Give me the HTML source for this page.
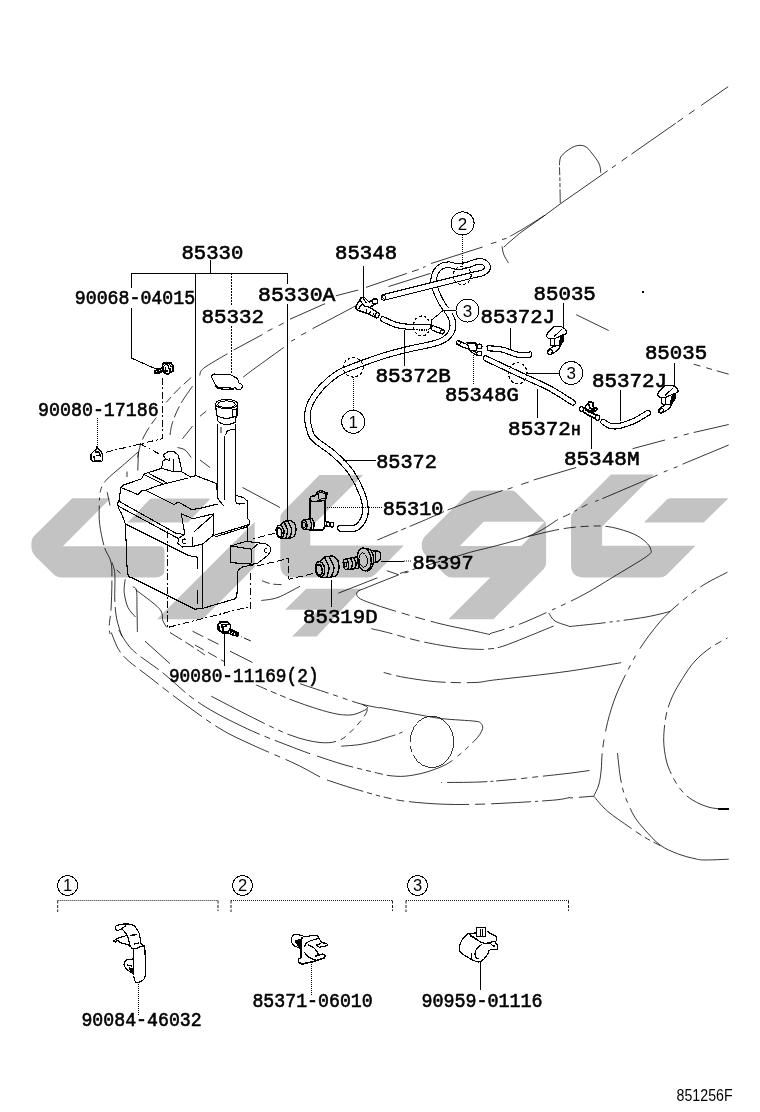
<!DOCTYPE html>
<html><head><meta charset="utf-8"><title>851256F</title>
<style>
html,body{margin:0;padding:0;background:#fff;}
body{width:760px;height:1112px;overflow:hidden;position:relative;font-family:"Liberation Sans",sans-serif;}
svg{position:absolute;left:0;top:0;display:block;}
</style></head><body>
<svg id="art" width="760" height="1112" viewBox="0 0 760 1112">
<g id="wm">
<path d="M73.6,498.3 L110.6,498.3 L62.8,546.3 L160,546.3 Q164.5,546.3 164.5,551 L164.5,569 Q164.5,577.4 156,577.4 L62,577.4 Q57,577.4 53.5,574.2 L35.5,556.5 Q31.4,552 31.4,547 L31.4,543 Q31.4,538.5 35,535 L71,499.4 Q72,498.3 73.6,498.3 Z" fill="#c3c3c3" fill-rule="evenodd"/>
<path d="M152.5,498.4 L210.5,498.4 L188,522.5 L127.6,522.5 L149.5,499.5 Q150.5,498.4 152.5,498.4Z" fill="#c3c3c3" fill-rule="evenodd"/>
<path d="M254.7,521.8 L254.7,567.1 L202.6,619.2 L157,619.2 Z" fill="#c3c3c3" fill-rule="evenodd"/>
<path d="M319.5,475 L363,475 L310.3,527.7 L310.3,545.6 L403.8,545.6 L375,574.5 Q372,577.4 367,577.4 L293,577.4 Q280.3,577.4 280.3,565 L280.3,518 Q280.3,514.5 283,511.8 Z" fill="#c3c3c3" fill-rule="evenodd"/>
<path d="M306.3,588.7 L361.6,588.7 L316.6,636.5 L292.1,636.5 L318.9,609.7 L285,609.7 Z" fill="#c3c3c3" fill-rule="evenodd"/>
<path d="M474,490.5 L512,490.5 Q514,490.5 515.5,492 L544.8,521.3 Q546.1,522.6 546.1,524.2 L546.1,563 Q546.1,566.6 543.5,569.2 L493.4,619.3 L448.4,619.3 L490.3,577.4 L451.5,577.4 Q447.6,577.4 444.8,574.6 L426.3,556.1 Q421.8,551.6 421.8,546.5 L421.8,545 Q421.8,539.5 425.5,535.8 L468.5,492.8 Q470.8,490.5 474,490.5 Z M483.6,521.8 L544.6,521.8 L521.4,546.1 L459.8,546.1 Z" fill="#c3c3c3" fill-rule="evenodd"/>
<path d="M611,474.5 L654,474.5 L602.1,526.4 L602.1,545.8 L695.5,545.8 L667,574.5 Q664,577.4 659,577.4 L584,577.4 Q571,577.4 571,565 L571,518 Q571,514.5 573.5,512 Z" fill="#c3c3c3" fill-rule="evenodd"/>
<path d="M671,498.3 L728.4,498.3 L703.6,522.6 L643.8,522.6 L667,499.6 Q668.5,498.3 671,498.3Z" fill="#c3c3c3" fill-rule="evenodd"/>
</g>
<g id="lines" opacity="0.999" shape-rendering="crispEdges">
<text transform="translate(181.4 259) scale(0.983 1)" font-family="Liberation Mono" font-weight="normal" font-size="21" stroke="#000" stroke-width="0.65" stroke-linejoin="round">85330</text>
<text transform="translate(74.8 304) scale(0.868 1)" font-family="Liberation Mono" font-weight="normal" font-size="21" stroke="#000" stroke-width="0.65" stroke-linejoin="round">90068-04015</text>
<text transform="translate(258.1 301.3) scale(1.023 1)" font-family="Liberation Mono" font-weight="normal" font-size="21" stroke="#000" stroke-width="0.65" stroke-linejoin="round">85330A</text>
<text transform="translate(201.4 323) scale(0.992 1)" font-family="Liberation Mono" font-weight="normal" font-size="21" stroke="#000" stroke-width="0.65" stroke-linejoin="round">85332</text>
<text transform="translate(38.1 416) scale(0.870 1)" font-family="Liberation Mono" font-weight="normal" font-size="21" stroke="#000" stroke-width="0.65" stroke-linejoin="round">90080-17186</text>
<text transform="translate(335.1 259) scale(0.983 1)" font-family="Liberation Mono" font-weight="normal" font-size="21" stroke="#000" stroke-width="0.65" stroke-linejoin="round">85348</text>
<text transform="translate(375.4 382) scale(0.999 1)" font-family="Liberation Mono" font-weight="normal" font-size="21" stroke="#000" stroke-width="0.65" stroke-linejoin="round">85372B</text>
<text transform="translate(376.2 467.5) scale(0.962 1)" font-family="Liberation Mono" font-weight="normal" font-size="21" stroke="#000" stroke-width="0.65" stroke-linejoin="round">85372</text>
<text transform="translate(382.8 514.5) scale(0.962 1)" font-family="Liberation Mono" font-weight="normal" font-size="21" stroke="#000" stroke-width="0.65" stroke-linejoin="round">85310</text>
<text transform="translate(412.6 568.5) scale(0.970 1)" font-family="Liberation Mono" font-weight="normal" font-size="21" stroke="#000" stroke-width="0.65" stroke-linejoin="round">85397</text>
<text transform="translate(303.1 622.5) scale(0.986 1)" font-family="Liberation Mono" font-weight="normal" font-size="21" stroke="#000" stroke-width="0.65" stroke-linejoin="round">85319D</text>
<text transform="translate(168.9 682) scale(0.849 1)" font-family="Liberation Mono" font-weight="normal" font-size="21" stroke="#000" stroke-width="0.65" stroke-linejoin="round">90080-11169(2)</text>
<text transform="translate(533.6 300) scale(0.988 1)" font-family="Liberation Mono" font-weight="normal" font-size="21" stroke="#000" stroke-width="0.65" stroke-linejoin="round">85035</text>
<text transform="translate(480.6 323) scale(0.985 1)" font-family="Liberation Mono" font-weight="normal" font-size="21" stroke="#000" stroke-width="0.65" stroke-linejoin="round">85372J</text>
<text transform="translate(444.9 401) scale(0.978 1)" font-family="Liberation Mono" font-weight="normal" font-size="21" stroke="#000" stroke-width="0.65" stroke-linejoin="round">85348G</text>
<text transform="translate(508.1 435) scale(0.996 1)" font-family="Liberation Mono" font-weight="normal" font-size="21" stroke="#000" stroke-width="0.65" stroke-linejoin="round">85372<tspan font-size="15.5" dx="0.5">H</tspan></text>
<text transform="translate(644.9 359.2) scale(0.988 1)" font-family="Liberation Mono" font-weight="normal" font-size="21" stroke="#000" stroke-width="0.65" stroke-linejoin="round">85035</text>
<text transform="translate(591.9 386.7) scale(0.996 1)" font-family="Liberation Mono" font-weight="normal" font-size="21" stroke="#000" stroke-width="0.65" stroke-linejoin="round">85372J</text>
<text transform="translate(563.9 464.5) scale(1.001 1)" font-family="Liberation Mono" font-weight="normal" font-size="21" stroke="#000" stroke-width="0.65" stroke-linejoin="round">85348M</text>
<text transform="translate(81.4 1026) scale(0.868 1)" font-family="Liberation Mono" font-weight="normal" font-size="21" stroke="#000" stroke-width="0.65" stroke-linejoin="round">90084-46032</text>
<text transform="translate(252.4 1007) scale(0.868 1)" font-family="Liberation Mono" font-weight="normal" font-size="21" stroke="#000" stroke-width="0.65" stroke-linejoin="round">85371-06010</text>
<text transform="translate(421.4 1007) scale(0.875 1)" font-family="Liberation Mono" font-weight="normal" font-size="21" stroke="#000" stroke-width="0.65" stroke-linejoin="round">90959-01116</text>
<text transform="translate(676.6 1100.6) scale(0.865 1)" font-family="Liberation Sans" font-size="16.4">851256F</text>
<path d="M210.5 260 L210.5 273" fill="none" stroke="#000" stroke-width="1" stroke-linejoin="round"/>
<path d="M131.2 273 L287 273" fill="none" stroke="#000" stroke-width="1" stroke-linejoin="round"/>
<path d="M131.2 273 L131.2 287.5" fill="none" stroke="#000" stroke-width="1" stroke-linejoin="round"/>
<path d="M131.2 308 L131.2 358 L152.5 367.5 L158 369" fill="none" stroke="#000" stroke-width="1" stroke-linejoin="round"/>
<path d="M195.5 273 L195.5 476" fill="none" stroke="#000" stroke-width="1" stroke-linejoin="round"/>
<path d="M231.2 273 L231.2 306" fill="none" stroke="#000" stroke-width="1" stroke-dasharray="2 1" stroke-linejoin="round"/>
<path d="M231.2 326 L231.2 374" fill="none" stroke="#000" stroke-width="1" stroke-dasharray="2 1" stroke-linejoin="round"/>
<path d="M287 273 L287 284" fill="none" stroke="#000" stroke-width="1" stroke-linejoin="round"/>
<path d="M287 304 L287 520" fill="none" stroke="#000" stroke-width="1" stroke-linejoin="round"/>
<path d="M363.2 266 L363.2 297" fill="none" stroke="#000" stroke-width="1" stroke-linejoin="round"/>
<path d="M342.5 460.2 L376 460.2" fill="none" stroke="#000" stroke-width="1" stroke-linejoin="round"/>
<path d="M325.3 507.8 L383 507.8" fill="none" stroke="#000" stroke-width="1" stroke-dasharray="1 1" stroke-linejoin="round"/>
<path d="M325.3 507.8 L325.3 521.6" fill="none" stroke="#000" stroke-width="1" stroke-dasharray="1 1" stroke-linejoin="round"/>
<path d="M380.5 561 L404 561" fill="none" stroke="#000" stroke-width="1" stroke-linejoin="round"/>
<path d="M404 561 L411 561" fill="none" stroke="#000" stroke-width="0.9" stroke-dasharray="1 1" stroke-linejoin="round"/>
<path d="M331.6 579.7 L331.6 607" fill="none" stroke="#000" stroke-width="1" stroke-linejoin="round"/>
<path d="M224.5 633.7 L224.5 666.2" fill="none" stroke="#000" stroke-width="1" stroke-linejoin="round"/>
<path d="M97 417.7 L97 449" fill="none" stroke="#000" stroke-width="1" stroke-dasharray="1 1" stroke-linejoin="round"/>
<path d="M563.2 303 L563.2 326.7" fill="none" stroke="#000" stroke-width="1" stroke-linejoin="round"/>
<path d="M510.5 328 L510.5 349.2" fill="none" stroke="#000" stroke-width="1" stroke-linejoin="round"/>
<path d="M473 353 L473 384.2" fill="none" stroke="#000" stroke-width="1" stroke-dasharray="1 1" stroke-linejoin="round"/>
<path d="M537.5 388.7 L537.5 417.5" fill="none" stroke="#000" stroke-width="1" stroke-linejoin="round"/>
<path d="M527.5 373 L560 373" fill="none" stroke="#000" stroke-width="1" stroke-linejoin="round"/>
<path d="M674.2 362.5 L674.2 385.5" fill="none" stroke="#000" stroke-width="1" stroke-linejoin="round"/>
<path d="M620.7 389.7 L620.7 421.2" fill="none" stroke="#000" stroke-width="1" stroke-linejoin="round"/>
<path d="M591.7 417.5 L591.7 448.7" fill="none" stroke="#000" stroke-width="1.3" stroke-linejoin="round"/>
<circle cx="462.6" cy="223.4" r="11.5" fill="none" stroke="#000" stroke-width="1"/>
<text x="462.6" y="229.5" font-family="Liberation Sans" font-size="17" text-anchor="middle">2</text>
<path d="M462.6 234.5 L462.6 268" fill="none" stroke="#000" stroke-width="1" stroke-dasharray="1 1" stroke-linejoin="round"/>
<circle cx="467.5" cy="310.5" r="11.5" fill="none" stroke="#000" stroke-width="1"/>
<text x="467.5" y="316.6" font-family="Liberation Sans" font-size="17" text-anchor="middle">3</text>
<circle cx="571.2" cy="373" r="11.5" fill="none" stroke="#000" stroke-width="1"/>
<text x="571.2" y="379.1" font-family="Liberation Sans" font-size="17" text-anchor="middle">3</text>
<circle cx="353.2" cy="421.8" r="11.5" fill="none" stroke="#000" stroke-width="1"/>
<text x="353.2" y="427.9" font-family="Liberation Sans" font-size="17" text-anchor="middle">1</text>
<path d="M353 376.5 L353 410" fill="none" stroke="#000" stroke-width="1" stroke-dasharray="1 1" stroke-linejoin="round"/>
<circle cx="67.6" cy="885.5" r="10" fill="none" stroke="#000" stroke-width="1"/>
<text x="67.6" y="891.4" font-family="Liberation Sans" font-size="16.5" text-anchor="middle">1</text>
<circle cx="242.5" cy="885.5" r="10" fill="none" stroke="#000" stroke-width="1"/>
<text x="242.5" y="891.4" font-family="Liberation Sans" font-size="16.5" text-anchor="middle">2</text>
<circle cx="417.5" cy="885.5" r="10" fill="none" stroke="#000" stroke-width="1"/>
<text x="417.5" y="891.4" font-family="Liberation Sans" font-size="16.5" text-anchor="middle">3</text>
<path d="M57.7 900.5 L218 900.5" fill="none" stroke="#000" stroke-width="0.9" stroke-dasharray="1 1" stroke-linejoin="round"/>
<path d="M57.7 900.5 L57.7 912" fill="none" stroke="#000" stroke-width="0.9" stroke-dasharray="3 1.5" stroke-linejoin="round"/>
<path d="M218 900.5 L218 911" fill="none" stroke="#000" stroke-width="0.9" stroke-dasharray="3 1.5" stroke-linejoin="round"/>
<path d="M231 900.5 L392.5 900.5" fill="none" stroke="#000" stroke-width="0.9" stroke-dasharray="1 1" stroke-linejoin="round"/>
<path d="M231 900.5 L231 912" fill="none" stroke="#000" stroke-width="0.9" stroke-dasharray="3 1.5" stroke-linejoin="round"/>
<path d="M392.5 900.5 L392.5 911" fill="none" stroke="#000" stroke-width="0.9" stroke-dasharray="3 1.5" stroke-linejoin="round"/>
<path d="M406 900.5 L568.5 900.5" fill="none" stroke="#000" stroke-width="0.9" stroke-dasharray="1 1" stroke-linejoin="round"/>
<path d="M406 900.5 L406 912" fill="none" stroke="#000" stroke-width="0.9" stroke-dasharray="3 1.5" stroke-linejoin="round"/>
<path d="M568.5 900.5 L568.5 911" fill="none" stroke="#000" stroke-width="0.9" stroke-dasharray="3 1.5" stroke-linejoin="round"/>
<path d="M138.7 982 L138.7 1016" fill="none" stroke="#000" stroke-width="1" stroke-dasharray="1 1" stroke-linejoin="round"/>
<path d="M311.7 962 L311.7 996" fill="none" stroke="#000" stroke-width="1.4" stroke-dasharray="1 1" stroke-linejoin="round"/>
<path d="M480.3 962 L480.3 989.5" fill="none" stroke="#000" stroke-width="1.1" stroke-linejoin="round"/>
<path d="M144.7 945.8 C144.8 948.2 145.2 955.1 145.3 960 C145.4 964.9 145.6 972 145.3 975.3 C145 978.5 144.8 978.3 143.7 979.5 C142.5 980.7 139.8 982.2 138.4 982.6 C137 983 136.1 982.7 135.3 981.6 C134.5 980.5 133.9 976.9 133.6 976" fill="none" stroke="#000" stroke-width="1.2" stroke-linejoin="round"/>
<path d="M133.2 975 L133.2 949" fill="none" stroke="#000" stroke-width="1.2" stroke-linejoin="round"/>
<path d="M115.3 926.3 C116.3 925.9 118.8 924.5 121.6 924.2 C124.4 923.9 129.6 924 132.1 924.7 C134.6 925.4 135.1 926.8 136.3 928.4 C137.5 930 138.7 931.7 139.5 934.2 C140.3 936.8 140.1 941.8 141 943.7 C141.9 945.6 144.1 945.4 144.7 945.8" fill="none" stroke="#000" stroke-width="1.2" stroke-linejoin="round"/>
<path d="M115.3 926.3 C115.4 926.8 115.4 928.8 115.8 929.5 C116.2 930.2 116.9 930.6 117.9 930.5 C118.9 930.4 120.4 928.6 121.6 929 C122.8 929.4 124.2 931.2 125.3 932.6 C126.3 934 127.2 935.5 127.9 937.4 C128.6 939.2 128.9 942 129.5 943.7 C130.1 945.5 131 947 131.6 947.9 C132.2 948.8 132.9 948.8 133.2 949" fill="none" stroke="#000" stroke-width="1.2" stroke-linejoin="round"/>
<path d="M121.6 929 L125.8 925.5" fill="none" stroke="#000" stroke-width="1.2" stroke-linejoin="round"/>
<path d="M113.7 941 C114.3 940.6 115.4 939.3 117.4 938.4 C119.4 937.5 124.4 936.2 125.8 935.8" fill="none" stroke="#000" stroke-width="1.2" stroke-linejoin="round"/>
<path d="M113.7 941 C114 941.2 115.2 942.2 115.8 942.1 C116.4 942 116.4 940.3 117.4 940.5 C118.4 940.7 119.8 942.5 121.6 943.2 C123.3 943.9 126.4 944 127.9 944.7 C129.4 945.4 130.1 947 130.5 947.4" fill="none" stroke="#000" stroke-width="1.2" stroke-linejoin="round"/>
<path d="M133.2 959 C132.1 959.2 128.3 959.4 126.8 960 C125.3 960.6 124.5 961.5 124.2 962.6 C123.9 963.7 123.9 965.4 124.7 966.8 C125.5 968.2 127.6 969.9 129 971 C130.4 972.1 132.5 973.2 133.2 973.7" fill="none" stroke="#000" stroke-width="1.2" stroke-linejoin="round"/>
<path d="M126.8 964.7 L132.1 966.3" fill="none" stroke="#000" stroke-width="1.2" stroke-linejoin="round"/>
<path d="M129 968 L132.3 968.5 L132.3 973.2Z" fill="#000" stroke="#000" stroke-width="1.2" stroke-linejoin="round"/>
<path d="M130 935.3 L137.4 934.7" fill="none" stroke="#000" stroke-width="1.2" stroke-linejoin="round"/>
<path d="M134.2 944.2 L139.5 942.6" fill="none" stroke="#000" stroke-width="1.2" stroke-linejoin="round"/>
<path d="M138.4 947.4 L144.2 945.8" fill="none" stroke="#000" stroke-width="1.2" stroke-linejoin="round"/>
<path d="M133.2 949 L138 948" fill="none" stroke="#000" stroke-width="1.2" stroke-linejoin="round"/>
<path d="M302.6 935.7 C301.4 935.5 297.1 934 295.3 934.3 C293.5 934.6 292.2 936.2 291.6 937.5 C291 938.8 291.2 940.7 291.6 942.1 C292.1 943.5 292.9 944.8 294.3 945.8 C295.7 946.8 299 947.7 299.9 948.1" fill="none" stroke="#000" stroke-width="1.2" stroke-linejoin="round"/>
<path d="M295 941 L299.8 939.5 L299.8 948Z" fill="#000" stroke="#000" stroke-width="1.2" stroke-linejoin="round"/>
<path d="M302.6 937 L301.2 939.8 L300.8 958.2 L298.5 958.7 L298.5 961.9 L301.7 964.2 L311.8 961.9 L323.8 958.2 L325.2 955.5 L322.9 954.1 L318.3 955 L314.6 956.4" fill="none" stroke="#000" stroke-width="1.6" stroke-linejoin="round"/>
<path d="M302.6 937 L314.6 935.2 L317.8 935.2 L318.3 937.5 L322 942.6 L326.6 943.5 L328 944.9 L324.7 946.2 L319.2 947.2 L316 945.3" fill="none" stroke="#000" stroke-width="1.2" stroke-linejoin="round"/>
<path d="M304.5 946.7 C304.8 946.1 305.2 944 306.3 943 C307.4 942 308.9 941.5 310.9 940.7 C312.9 939.9 317.1 938.8 318.3 938.4" fill="none" stroke="#000" stroke-width="1.2" stroke-linejoin="round"/>
<path d="M308.2 944.9 C309.1 945.4 312.2 946.4 313.7 947.6 C315.2 948.8 316.6 951.1 317.4 952.2 C318.2 953.4 318.1 954.1 318.3 954.5" fill="none" stroke="#000" stroke-width="1.2" stroke-linejoin="round"/>
<path d="M304.5 952.2 C304.9 952.8 306 954.8 307.2 955.9 C308.4 957 310.4 958.1 311.8 958.7 C313.2 959.3 314.9 959.5 315.5 959.6" fill="none" stroke="#000" stroke-width="1.2" stroke-linejoin="round"/>
<path d="M316 945.3 L321 943.5" fill="none" stroke="#000" stroke-width="1.2" stroke-linejoin="round"/>
<path d="M468 933.4 C467.2 934.2 464.7 936.3 463.4 938 C462.1 939.7 460.9 941.8 460.2 943.6 C459.5 945.5 459.1 947.6 459.3 949.1 C459.5 950.6 459.8 951.5 461.1 952.8 C462.4 954.1 465.2 955.7 467.1 956.9 C469 958.1 470.6 959.2 472.6 960.1 C474.6 961 477.2 962.1 479.1 962 C481 961.9 482.3 960.4 483.7 959.2 C485.1 958 486.5 956.1 487.4 954.6 C488.3 953.1 488.3 951.4 489.2 950.5 C490.1 949.6 491.6 949.7 492.9 949.5 C494.2 949.3 496.2 950.2 497 949.5 C497.8 948.8 497.9 946.5 497.5 945.4 C497.1 944.2 495.2 943.1 494.7 942.6" fill="none" stroke="#000" stroke-width="1.2" stroke-linejoin="round"/>
<path d="M494.7 942.6 L496.1 940.8 L496.1 936.2 L487.4 931.6" fill="none" stroke="#000" stroke-width="1.2" stroke-linejoin="round"/>
<path d="M476.3 933 L468 933.4 L480.9 942.2 L485.5 943.6 L491 942.2 L495.2 941.2" fill="none" stroke="#000" stroke-width="1.2" stroke-linejoin="round"/>
<path d="M469.9 935.7 L481.8 942.6" fill="none" stroke="#000" stroke-width="1.2" stroke-linejoin="round"/>
<path d="M476.8 927.4 L485.5 927.4 L485.5 936.6 L476.8 936.6Z" fill="#fff" stroke="#000" stroke-width="1.2" stroke-linejoin="round"/>
<path d="M480.5 929 L480.5 936.6" fill="none" stroke="#000" stroke-width="1.6" stroke-linejoin="round"/>
<path d="M482.3 929 L482.3 936.6" fill="none" stroke="#000" stroke-width="1" stroke-linejoin="round"/>
<path d="M487 931.5 L495 936" fill="none" stroke="#000" stroke-width="1.2" stroke-linejoin="round"/>
<path d="M481.8 944.5 C481 945.1 478.4 946.7 477.2 948.2 C476 949.7 475 952.1 474.9 953.7 C474.8 955.3 475.5 957 476.3 957.8 C477.1 958.6 479 958.2 479.5 958.3" fill="none" stroke="#000" stroke-width="1.2" stroke-linejoin="round"/>
<path d="M485.5 943.6 C486.3 943.6 488.7 943.2 490.1 943.6 C491.5 944 493 946.1 493.8 946.3 C494.6 946.4 495 944.8 495.2 944.5" fill="none" stroke="#000" stroke-width="1.2" stroke-linejoin="round"/>
<path d="M471.7 953 L471.7 958.5" fill="none" stroke="#000" stroke-width="1.5" stroke-linejoin="round"/>
<path d="M728.2 86.6 L560.5 203.7 L545.3 215 L519.5 233.4 L506.6 244.5 L503.8 247.2" fill="none" stroke="#000" stroke-width="0.8" stroke-dasharray="33 8 7 7 7 2 54 5 7 7 5 5 400" stroke-linejoin="round"/>
<path d="M560.3 203.3 C560.2 199.4 560 187 559.9 180 C559.8 173 559.2 165.6 559.7 161.3 C560.2 157 560.7 156.6 563.2 154.1 C565.7 151.6 571.1 147.6 574.7 146.3 C578.3 145 581.9 145 584.9 146.3 C587.9 147.6 590.1 151 592.5 154 C594.9 157 597.9 161 599.3 164.2 C600.7 167.3 600.5 171.4 600.8 172.9" fill="none" stroke="#000" stroke-width="0.8" stroke-dasharray="14 2 4 2 4 2 8 2 200" stroke-linejoin="round"/>
<path d="M502 246.3 C502.3 247.7 502.7 251.8 503.8 254.6 C504.9 257.4 507.6 261.5 508.4 262.9" fill="none" stroke="#000" stroke-width="0.8" stroke-linejoin="round"/>
<path d="M545.3 215 C541.6 217.3 529 225.3 523.2 228.8 C517.4 232.3 512.5 235 510.3 236.2" fill="none" stroke="#000" stroke-width="0.8" stroke-linejoin="round"/>
<path d="M506.6 238.4 L502 239.5" fill="none" stroke="#000" stroke-width="0.8" stroke-linejoin="round"/>
<path d="M496.4 242.1 L490.9 243.6" fill="none" stroke="#000" stroke-width="0.8" stroke-linejoin="round"/>
<path d="M482.6 247 L431 263.5" fill="none" stroke="#000" stroke-width="0.8" stroke-linejoin="round"/>
<path d="M418.7 269.5 L412 271.6" fill="none" stroke="#000" stroke-width="0.8" stroke-linejoin="round"/>
<path d="M425.5 266.5 L423 267.5" fill="none" stroke="#000" stroke-width="0.8" stroke-linejoin="round"/>
<path d="M406.8 273.4 L366 287.4" fill="none" stroke="#000" stroke-width="0.8" stroke-linejoin="round"/>
<path d="M358.2 290 L335.8 295.8" fill="none" stroke="#000" stroke-width="0.8" stroke-linejoin="round"/>
<path d="M325 303.7 L290 319.2" fill="none" stroke="#000" stroke-width="0.8" stroke-linejoin="round"/>
<path d="M283.7 323 L278.7 325.7" fill="none" stroke="#000" stroke-width="0.8" stroke-linejoin="round"/>
<path d="M272.5 328.7 L267.5 331.2" fill="none" stroke="#000" stroke-width="0.8" stroke-linejoin="round"/>
<path d="M262.5 334.5 L233.7 350" fill="none" stroke="#000" stroke-width="0.8" stroke-linejoin="round"/>
<path d="M227.5 353.7 C223.5 356.1 208.3 364.6 203.7 368.2 C199.1 371.8 200.4 374.3 199.7 375.5" fill="none" stroke="#000" stroke-width="0.8" stroke-linejoin="round"/>
<path d="M357.6 304.2 C356.8 304.8 360 303.4 352.5 307.5 C345 311.6 319.2 325.2 312.5 328.7" fill="none" stroke="#000" stroke-width="0.8" stroke-linejoin="round"/>
<path d="M306.2 332.5 L301.2 335" fill="none" stroke="#000" stroke-width="0.8" stroke-linejoin="round"/>
<path d="M295 339.2 L291.2 341.2" fill="none" stroke="#000" stroke-width="0.8" stroke-linejoin="round"/>
<path d="M283.7 347.5 C278.9 350.9 261.8 363.3 255 368.2 C248.2 373.1 245.2 375.6 243.2 377.1" fill="none" stroke="#000" stroke-width="0.8" stroke-linejoin="round"/>
<path d="M576.2 314.7 L608.7 330.5" fill="none" stroke="#000" stroke-width="0.8" stroke-linejoin="round"/>
<path d="M693.7 364.2 L728.7 374.2" fill="none" stroke="#000" stroke-width="0.8" stroke-dasharray="7 6 6 5 20" stroke-linejoin="round"/>
<circle cx="643" cy="292" r="0.7" fill="#000"/>
<path d="M377.3 540 C381.1 538.4 392.4 533.7 400 530.5 C407.6 527.3 415.3 524.1 422.6 521 C429.9 517.9 440.4 513.2 444 511.6" fill="none" stroke="#000" stroke-width="0.8" stroke-dasharray="22 4 5 4 200" stroke-linejoin="round"/>
<path d="M447.5 510 C452.9 508 470.8 501.2 480 498 C489.2 494.8 498.8 491.8 502.5 490.5" fill="none" stroke="#000" stroke-width="0.8" stroke-linejoin="round"/>
<path d="M507.5 489.2 L512.5 487.5" fill="none" stroke="#000" stroke-width="0.8" stroke-linejoin="round"/>
<path d="M521.2 484.5 L528.7 482" fill="none" stroke="#000" stroke-width="0.8" stroke-linejoin="round"/>
<path d="M533.7 480 L576.2 467.5" fill="none" stroke="#000" stroke-width="0.8" stroke-linejoin="round"/>
<path d="M632.5 448.7 L665 440" fill="none" stroke="#000" stroke-width="0.8" stroke-linejoin="round"/>
<path d="M673.7 438 L677.5 437" fill="none" stroke="#000" stroke-width="0.8" stroke-linejoin="round"/>
<path d="M683.7 435 L688.7 433.7" fill="none" stroke="#000" stroke-width="0.8" stroke-linejoin="round"/>
<path d="M693.7 432.5 L728.7 424.5" fill="none" stroke="#000" stroke-width="0.8" stroke-linejoin="round"/>
<path d="M400 573.4 L469.7 552.4" fill="none" stroke="#000" stroke-width="0.8" stroke-dasharray="8 5 10 5 14 5 200" stroke-linejoin="round"/>
<path d="M469.7 552.4 C479.4 549.8 512.9 542.1 527.6 536.6 C542.3 531.1 552.9 522.4 557.9 519.5" fill="none" stroke="#000" stroke-width="0.8" stroke-linejoin="round"/>
<path d="M563 517 C564.2 516.5 565.9 515.8 570 513.7 C574.1 511.6 584.6 505.8 587.5 504.2" fill="none" stroke="#000" stroke-width="0.8" stroke-dasharray="8 5 3 5 200" stroke-linejoin="round"/>
<path d="M595 501.5 C596.7 500.8 594.6 501.9 605 497.5 C615.4 493.1 648.8 478.8 657.5 475" fill="none" stroke="#000" stroke-width="0.8" stroke-dasharray="4 4 200" stroke-linejoin="round"/>
<path d="M663.7 472 L667.5 470.5" fill="none" stroke="#000" stroke-width="0.8" stroke-linejoin="round"/>
<path d="M673.7 468 L677.5 466.7" fill="none" stroke="#000" stroke-width="0.8" stroke-linejoin="round"/>
<path d="M682.5 464.2 L728.7 445" fill="none" stroke="#000" stroke-width="0.8" stroke-linejoin="round"/>
<path d="M338.3 593.2 L377.4 577.8" fill="none" stroke="#000" stroke-width="0.8" stroke-linejoin="round"/>
<path d="M386.8 570.7 L398.7 574.8" fill="none" stroke="#000" stroke-width="0.8" stroke-linejoin="round"/>
<path d="M404.6 573 L408.8 571.8" fill="none" stroke="#000" stroke-width="0.8" stroke-linejoin="round"/>
<path d="M358.4 590.8 L398.7 574.8" fill="none" stroke="#000" stroke-width="0.8" stroke-linejoin="round"/>
<path d="M527.6 536.6 C533.5 535.3 551.9 530.5 563 528.7 C574.1 526.9 585.9 526.2 594.2 526 C602.5 525.8 606 526.1 612.6 527.4 C619.2 528.7 628.2 531.6 633.7 534 C639.2 536.4 642.6 539.2 645.5 541.8 C648.4 544.4 650.6 547.3 650.8 549.7 C651 552.1 653.2 551.7 646.8 556.3 C640.4 560.9 622.7 571.2 612.6 577.4 C602.5 583.5 595.1 588.4 586.3 593.2 C577.5 598 571 601.2 560 606.3 C549 611.4 531.7 619.5 520 624 C508.3 628.5 495 632 490 633.6" fill="none" stroke="#000" stroke-width="0.8" stroke-dasharray="32 5 12 5 8 5 7 5 150 6 5 6 4 6 30 5 5 5 200" stroke-linejoin="round"/>
<path d="M358.4 590.8 C358.1 591.4 356.2 592.9 356.6 594.3 C357 595.7 357.5 597.3 360.8 599.1 C364.1 600.9 369.7 602.8 376.2 605 C382.7 607.2 389.4 609.4 400 612.5 C410.6 615.6 427.5 620.6 440 623.7 C452.5 626.8 466.7 629.4 475 631.2 C483.3 633 487.5 634 490 634.5" fill="none" stroke="#000" stroke-width="0.8" stroke-dasharray="48 6 8 6 10 6 200" stroke-linejoin="round"/>
<path d="M371.2 628.7 C373.9 629.3 379.4 630.4 387.5 632.5 C395.6 634.6 408.8 638.7 420 641.2 C431.2 643.7 445.8 646.2 455 647.5 C464.2 648.8 469.6 649 475 649.2 C480.4 649.5 482.5 649.6 487.5 649 C492.5 648.4 494 649.3 505 645.5 C516 641.7 545.6 629.2 553.7 626" fill="none" stroke="#000" stroke-width="0.8" stroke-dasharray="22 5 8 5 10 5 60 4 6 4 200" stroke-linejoin="round"/>
<path d="M548.7 613 C549.8 614.3 551.5 618.8 555 621 C558.5 623.2 567.5 625.6 570 626.5" fill="none" stroke="#000" stroke-width="0.8" stroke-linejoin="round"/>
<path d="M570 626.5 C575.4 625.9 590 624.5 602.5 623 C615 621.5 633.8 619.1 645 617.2 C656.2 615.3 665.8 612.5 670 611.5" fill="none" stroke="#000" stroke-width="0.8" stroke-dasharray="36 4 3 4 3 4 200" stroke-linejoin="round"/>
<path d="M383.7 672.5 C387.2 673.3 395.6 675.9 405 677.5 C414.4 679.1 428.3 681.2 440 682 C451.7 682.8 466.2 682.8 475 682.5 C483.8 682.2 483.3 681.3 492.5 680.2 C501.7 679.1 517.1 677.5 530 676 C542.9 674.5 554.8 673.2 570 671 C585.2 668.8 612.7 664.1 621.2 662.7" fill="none" stroke="#000" stroke-width="0.8" stroke-dasharray="8 5 50 5 10 6 200" stroke-linejoin="round"/>
<path d="M727.5 572.2 C722.9 574.7 709.6 580.7 700 587.2 C690.4 593.8 677.9 604.2 670 611.5 C662.1 618.8 657.5 624.8 652.5 631 C647.5 637.2 643.8 642.7 640 648.5 C636.2 654.3 634 658.2 630 666 C626 673.8 620 685.6 616.2 695 C612.5 704.4 609.8 713.3 607.5 722.5 C605.2 731.7 603.5 742.1 602.5 750 C601.5 757.9 601.8 764.2 601.2 770 C600.6 775.8 600 780.6 598.7 785 C597.5 789.4 594.5 794.3 593.7 796.2" fill="none" stroke="#000" stroke-width="0.8" stroke-dasharray="31 5 6 5 6 5 60 8 5 6 5 6 60 8 8 6 200" stroke-linejoin="round"/>
<path d="M570 798 L593.7 796.2" fill="none" stroke="#000" stroke-width="0.8" stroke-dasharray="3 6 200" stroke-linejoin="round"/>
<path d="M593.7 796.2 C596 798.7 601.5 806 607.5 811.2 C613.5 816.4 623.8 823.1 630 827.5 C636.2 831.9 640 834.5 645 837.5 C650 840.5 657.5 844.2 660 845.5" fill="none" stroke="#000" stroke-width="0.8" stroke-dasharray="50 5 7 4 6 4 200" stroke-linejoin="round"/>
<path d="M570 773.2 L589.5 770.5" fill="none" stroke="#000" stroke-width="0.8" stroke-linejoin="round"/>
<path d="M617.5 753 C617.9 756.7 619 768.4 620 775 C621 781.6 622.2 787.5 623.7 792.5 C625.2 797.5 626.8 800.8 628.7 805 C630.6 809.2 632.3 813.3 635 817.5 C637.7 821.7 640.8 825.4 645 830 C649.2 834.6 654.6 841 660 845 C665.4 849 671.7 851.4 677.5 853.7 C683.3 856 690.4 857.7 695 858.7 C699.6 859.8 699.4 859.9 705 860 C710.6 860.1 724.8 859.3 728.7 859.2" fill="none" stroke="#000" stroke-width="0.8" stroke-dasharray="30 5 5 6 5 6 120 8 7 6 3 200" stroke-linejoin="round"/>
<path d="M727.5 638 C724.8 639.5 716.6 643.4 711.2 647.2 C705.8 651 699.8 655.8 695 661 C690.2 666.2 686.2 672.6 682.5 678.5 C678.8 684.4 675.2 690.1 672.5 696.2 C669.8 702.3 667.7 707.7 666.2 715 C664.7 722.3 663.7 732.5 663.7 740 C663.7 747.5 665 754.4 666.2 760 C667.5 765.6 668.9 768.9 671.2 773.7 C673.5 778.5 676.5 784.3 680 788.7 C683.5 793.1 687.5 796.9 692.5 800 C697.5 803.1 704 806 710 807.5 C716 809 725.6 808.9 728.7 809.2" fill="none" stroke="#000" stroke-width="0.8" stroke-dasharray="2 5 7 5 75 5 8 5 50 5 6 5 6 5 200" stroke-linejoin="round"/>
<path d="M718,808.8 L728.7,809.2" stroke="#000" stroke-width="1.6" fill="none"/>
<ellipse cx="431.9" cy="741.9" rx="21.7" ry="25.6" fill="none" stroke="#000" stroke-width="0.8" stroke-dasharray="60 4 6 4 200"/>
<path d="M380 707.5 C386.2 708.7 407.1 712.6 417.5 714.5 C427.9 716.4 432.9 717.6 442.5 718.7 C452.1 719.8 468.6 720.4 475 721.2 C481.4 722 479.9 722.5 481.2 723.7 C482.4 725 483.1 726.4 482.5 728.7 C481.9 731 480.4 734 477.5 737.5 C474.6 741 468.3 746.9 465 750 C461.7 753.1 458.8 755.2 457.5 756.2" fill="none" stroke="#000" stroke-width="0.8" stroke-dasharray="112 0 14 5 5 5 5 5 200" stroke-linejoin="round"/>
<path d="M380 773.7 C381.7 774 385.8 775.3 390 775.7 C394.2 776.1 399.2 776.7 405 776.2 C410.8 775.7 418.8 774.2 425 772.5 C431.2 770.8 437.9 768.2 442.5 766.2 C447.1 764.2 450.8 761.5 452.5 760.5" fill="none" stroke="#000" stroke-width="0.8" stroke-dasharray="3 4 200" stroke-linejoin="round"/>
<path d="M380 739.5 C382.5 738.8 391.2 736.2 395 735 C398.8 733.8 401.2 732.5 402.5 732" fill="none" stroke="#000" stroke-width="0.8" stroke-dasharray="16 4 200" stroke-linejoin="round"/>
<path d="M441.2 782.5 C447.7 782.4 468.1 782.5 480 782 C491.9 781.5 502.1 780.5 512.5 779.5 C522.9 778.5 532.9 777.2 542.5 776.2 C552.1 775.2 565.4 773.7 570 773.2" fill="none" stroke="#000" stroke-width="0.8" stroke-dasharray="1 5 40 3 3 3 20 5 6 5 6 5 200" stroke-linejoin="round"/>
<path d="M383.7 797 C387.2 797.7 395.2 800 405 801.2 C414.8 802.4 430 803.7 442.5 804.2 C455 804.7 467.5 804.5 480 804.2 C492.5 803.9 505 803.2 517.5 802.5 C530 801.8 546.2 800.8 555 800 C563.8 799.2 567.5 797.9 570 797.5" fill="none" stroke="#000" stroke-width="0.8" stroke-dasharray="8 5 8 5 60 6 10 6 40 4 3 4 200" stroke-linejoin="round"/>
<path d="M300 683.7 C305 685.4 320 690.4 330 693.7 C340 697 351.7 701.3 360 703.7 C368.3 706.1 376.7 707.3 380 708" fill="none" stroke="#000" stroke-width="0.8" stroke-dasharray="30 5 5 5 5 5 200" stroke-linejoin="round"/>
<path d="M256.2 685 C262.7 687.7 282.7 696.6 295 701.2 C307.3 705.8 320.8 710.2 330 712.5 C339.2 714.8 344.6 715.2 350 715 C355.4 714.8 359.6 712.5 362.5 711.2 C365.4 710 367.5 708.6 367.5 707.5 C367.5 706.4 363.3 705 362.5 704.5" fill="none" stroke="#000" stroke-width="0.8" stroke-dasharray="12 4 6 4 6 4 200" stroke-linejoin="round"/>
<path d="M211.2 696.2 C218.1 699.8 239.4 711 252.5 717.5 C265.6 724 278.8 730.8 290 735 C301.2 739.2 311.7 741.7 320 742.5 C328.3 743.3 334.2 742.5 340 740 C345.8 737.5 350.8 731.7 355 727.5 C359.2 723.3 362.9 718.1 365 715 C367.1 711.9 367.1 709.8 367.5 708.7" fill="none" stroke="#000" stroke-width="0.8" stroke-dasharray="60 5 5 5 5 5 50 5 6 5 6 5 6 5 200" stroke-linejoin="round"/>
<path d="M118.7 630 C121 633.3 125.2 642.9 132.5 650 C139.8 657.1 152.9 664.8 162.5 672.5 C172.1 680.2 181.2 689.5 190 696.2 C198.8 702.9 204.6 706.7 215 712.5 C225.4 718.3 240 725.6 252.5 731.2 C265 736.8 280.4 742.5 290 746.2 C299.6 750 306.7 752.5 310 753.7" fill="none" stroke="#000" stroke-width="0.8" stroke-dasharray="30 5 22 5 30 5 6 5 70 5 6 5 200" stroke-linejoin="round"/>
<path d="M317 756 C321.7 757.5 334.5 762 345 765 C355.5 768 374.2 772.2 380 773.7" fill="none" stroke="#000" stroke-width="0.8" stroke-dasharray="38 4 5 4 5 4" stroke-linejoin="round"/>
<path d="M111.2 632.5 C113.1 636.2 116 647.5 122.5 655 C129 662.5 140 669.6 150 677.5 C160 685.4 170.8 694 182.5 702.5 C194.2 711 208.3 721.6 220 728.7 C231.7 735.8 240 739.2 252.5 745 C265 750.8 283.8 758.4 295 763.7 C306.2 769 315.8 774.8 320 777" fill="none" stroke="#000" stroke-width="0.8" stroke-dasharray="22 5 16 5 24 5 8 5 36 5 6 5 60 6 6 6 200" stroke-linejoin="round"/>
<path d="M327 780 C330.8 781.2 341.2 784.8 350 787.5 C358.8 790.2 375 794.8 380 796.2" fill="none" stroke="#000" stroke-width="0.8" stroke-dasharray="38 4 5 4 5 4" stroke-linejoin="round"/>
<path d="M341.2 746.2 C344.3 745.9 353.5 745.5 360 744.5 C366.5 743.5 376.7 740.8 380 740" fill="none" stroke="#000" stroke-width="0.8" stroke-linejoin="round"/>
<path d="M191.2 377.5 C188.9 379.6 181.7 385.8 177.5 390 C173.3 394.2 168.1 400.4 166.2 402.5" fill="none" stroke="#000" stroke-width="0.8" stroke-dasharray="10 4" stroke-linejoin="round"/>
<path d="M192.5 386.2 C190.4 389.3 183.3 398.9 180 405 C176.7 411.1 174.2 417.5 172.5 422.5 C170.8 427.5 170.4 432.9 170 435" fill="none" stroke="#000" stroke-width="0.8" stroke-dasharray="20 4 12 4 200" stroke-linejoin="round"/>
<path d="M156.2 417.5 C154.8 419.6 150 425.8 147.5 430 C145 434.2 142.9 437.9 141.2 442.5 C139.5 447.1 138.1 455 137.5 457.5" fill="none" stroke="#000" stroke-width="0.8" stroke-dasharray="8 4 14 5 200" stroke-linejoin="round"/>
<path d="M206.2 411.2 L200 416.2" fill="none" stroke="#000" stroke-width="0.8" stroke-linejoin="round"/>
<path d="M192.5 426.2 L182.5 438.7" fill="none" stroke="#000" stroke-width="0.8" stroke-linejoin="round"/>
<path d="M177.5 447.5 C178.8 447.9 182.7 448.3 185 450 C187.3 451.7 190.2 456.2 191.2 457.5" fill="none" stroke="#000" stroke-width="0.8" stroke-linejoin="round"/>
<path d="M200 460 L210 467.5" fill="none" stroke="#000" stroke-width="0.8" stroke-linejoin="round"/>
<path d="M242.5 487.5 L280 507.5" fill="none" stroke="#000" stroke-width="0.8" stroke-linejoin="round"/>
<path d="M138.4 451.7 C135.7 454.1 127.7 461.2 122.3 465.9 C116.9 470.6 109.9 475.9 106.3 480 C102.7 484.1 101.8 486.1 100.6 490.4 C99.4 494.6 99.4 499.8 99.3 505.5 C99.2 511.2 98.8 517.5 99.7 524.4 C100.6 531.3 102.5 540.8 104.4 547.1 C106.3 553.4 109.8 556.5 111 562.2 C112.2 567.9 111.9 573.2 111.9 581.1 C111.9 589 111.5 601.9 111 609.4 C110.5 616.9 109.3 622.3 109.1 626.4 C108.9 630.5 109.8 632.7 110 634" fill="none" stroke="#000" stroke-width="0.8" stroke-dasharray="46 5 6 5 3 5 40 3 30 4 30 5 10 5 8 5 200" stroke-linejoin="round"/>
<path d="M138.4 451.7 L137.8 470.6" fill="none" stroke="#000" stroke-width="0.8" stroke-linejoin="round"/>
<path d="M127 471.5 L127 477" fill="none" stroke="#000" stroke-width="0.8" stroke-linejoin="round"/>
<path d="M107.2 492.3 L110 505.5" fill="none" stroke="#000" stroke-width="0.8" stroke-linejoin="round"/>
<path d="M111.9 562.2 C112.4 564.1 114.3 567.2 114.8 573.5 C115.3 579.8 114.5 592.4 114.8 600 C115.1 607.6 115.5 612.6 116.7 618.9 C118 625.2 121.4 634.6 122.3 637.7" fill="none" stroke="#000" stroke-width="0.8" stroke-dasharray="40 5 30 5 200" stroke-linejoin="round"/>
<path d="M116.7 569.8 L120.4 573.5" fill="none" stroke="#000" stroke-width="0.8" stroke-linejoin="round"/>
<path d="M125.2 579.2 C125 581.4 123.7 587.7 124.2 592.4 C124.7 597.1 126.1 603.4 128 607.5 C129.9 611.6 134.2 615.4 135.5 617" fill="none" stroke="#000" stroke-width="0.8" stroke-linejoin="round"/>
<path d="M132.7 586.8 C133.3 587.4 135.8 586.6 136.5 590.5 C137.2 594.4 136.8 603.1 137 610 C137.2 616.9 137.3 628.3 137.4 632" fill="none" stroke="#000" stroke-width="0.8" stroke-linejoin="round"/>
<path d="M135.5 589.6 C139.4 592.8 154.6 603.3 159.2 608.5 C163.8 613.7 161.7 617.6 162.9 620.7 C164.2 623.9 166.1 626.3 166.7 627.4" fill="none" stroke="#000" stroke-width="0.8" stroke-linejoin="round"/>
<path d="M145 641.2 L170 663.7" fill="none" stroke="#000" stroke-width="0.8" stroke-linejoin="round"/>
<path d="M170 632.5 C173.3 634.6 184.2 641.2 190 645 C195.8 648.8 202.5 653.3 205 655" fill="none" stroke="#000" stroke-width="0.8" stroke-dasharray="14 4 10 4" stroke-linejoin="round"/>
<path d="M192.5 631.2 L220 645" fill="none" stroke="#000" stroke-width="0.8" stroke-dasharray="12 5 12 5" stroke-linejoin="round"/>
<path d="M230 651.2 L252.5 662.5" fill="none" stroke="#000" stroke-width="0.8" stroke-linejoin="round"/>
<path d="M195 645 L225 662" fill="none" stroke="#000" stroke-width="0.8" stroke-dasharray="10 5" stroke-linejoin="round"/>
<path d="M262 580.8 C263.7 581.3 268.3 583.4 272 584 C275.7 584.6 282 584.6 284 584.7" fill="none" stroke="#000" stroke-width="0.8" stroke-dasharray="8 4" stroke-linejoin="round"/>
<path d="M261.3 600.5 C264.1 600 271.6 599.8 278 597.4 C284.4 595 296.3 588.1 300 586.3" fill="none" stroke="#000" stroke-width="0.8" stroke-linejoin="round"/>
<path d="M120.5 487.4 L123.7 485 L141.8 478.7 L144.2 473.9 L161.6 468.4" fill="none" stroke="#000" stroke-width="1.1" stroke-linejoin="round"/>
<path d="M182.1 472 L190.8 477.1 L195.8 475.6 L216.3 483.4" fill="none" stroke="#000" stroke-width="1.1" stroke-linejoin="round"/>
<path d="M120.5 487.4 L137.9 494.5 L141.8 490.5 L145.8 490.2 L155.3 486.6 L163.2 484.2 L188.4 477.9" fill="none" stroke="#000" stroke-width="1.1" stroke-linejoin="round"/>
<path d="M145.8 490.5 L174.2 504.7 L177.4 502.4 L180.5 503.2 L191.6 509.5 L201 508.2 L217.6 504" fill="none" stroke="#000" stroke-width="1.1" stroke-linejoin="round"/>
<path d="M145 475 L163.2 484.2" fill="none" stroke="#000" stroke-width="1.1" stroke-linejoin="round"/>
<path d="M148.9 473.5 L167.1 483" fill="none" stroke="#000" stroke-width="1.1" stroke-linejoin="round"/>
<path d="M120.5 487.4 C120.3 489.3 119.9 496.6 119.5 499 C119.1 501.4 118.2 500.5 118 502 C117.8 503.5 118 506.2 118.5 508 C119 509.8 119.9 510.1 121 512.5 C122.1 514.9 124.3 520.8 125 522.5" fill="none" stroke="#000" stroke-width="1.1" stroke-linejoin="round"/>
<path d="M118.2 500.8 L175.8 533.2 L185.3 534.7" fill="none" stroke="#000" stroke-width="1.1" stroke-linejoin="round"/>
<path d="M118.7 506.3 L174.2 536.3 L178.5 538.5" fill="none" stroke="#000" stroke-width="1.1" stroke-linejoin="round"/>
<path d="M125.2 523.9 L188.4 555.5 L197.1 557.1" fill="none" stroke="#000" stroke-width="1.1" stroke-linejoin="round"/>
<path d="M125.3 524.7 C125.5 528.9 126.1 541.8 126.5 550 C126.9 558.2 126.8 569.1 127.6 573.7 C128.4 578.3 130.9 577 131.6 577.6" fill="none" stroke="#000" stroke-width="1.1" stroke-linejoin="round"/>
<path d="M131.6 577.6 L194.7 609.2 L202.6 608.4 L234.5 599" fill="none" stroke="#000" stroke-width="1.1" stroke-linejoin="round"/>
<path d="M234.5 599 C234.9 598.5 236.4 598.1 236.8 595.8 C237.2 593.5 237.1 589 237.2 585 C237.3 581 236.9 575 237.6 572.1 C238.3 569.2 239.1 568.6 241.6 567.4 C244.1 566.2 250.8 565.4 252.6 565" fill="none" stroke="#000" stroke-width="1.1" stroke-linejoin="round"/>
<path d="M202.6 543.7 L202.6 607.6" fill="none" stroke="#000" stroke-width="1.1" stroke-linejoin="round"/>
<path d="M197.2 557 L197.2 569" fill="none" stroke="#000" stroke-width="1.1" stroke-linejoin="round"/>
<path d="M197.2 589.5 L197.2 603.7" fill="none" stroke="#000" stroke-width="1.1" stroke-linejoin="round"/>
<path d="M216.3 483.4 C216.5 484.8 217 489.5 217.3 492 C217.6 494.5 216.8 496 217.9 498.4 C219.1 500.8 223.1 505 224.2 506.3" fill="none" stroke="#000" stroke-width="1.1" stroke-linejoin="round"/>
<path d="M247.9 501.6 L247.9 519 L249.5 520.5 L249.5 523.7 L244.7 526 L213.2 535.5" fill="none" stroke="#000" stroke-width="1.1" stroke-linejoin="round"/>
<path d="M249.5 523.7 L247.1 526.8 L214.7 537.1" fill="none" stroke="#000" stroke-width="1.1" stroke-linejoin="round"/>
<path d="M247.1 526.8 L247.1 541" fill="none" stroke="#000" stroke-width="1.1" stroke-linejoin="round"/>
<path d="M235.6 495.3 C236.9 495.7 241.1 496.6 243.2 497.6 C245.2 498.7 247.1 500.9 247.9 501.6" fill="none" stroke="#000" stroke-width="1.1" stroke-linejoin="round"/>
<path d="M235.6 495.3 C235.7 496.5 235.5 500.9 236.1 502.4 C236.7 503.8 237.8 503.9 239.2 504 C240.6 504.1 243.8 503.3 244.7 503.2" fill="none" stroke="#000" stroke-width="1.1" stroke-linejoin="round"/>
<path d="M181.3 514 L193 518.7 L213.8 513.8 L213 535.5 L203 543.7 L193.7 546.3 L182.5 547 L177.7 543.5 L178.9 538 L184.8 534 L181.3 514" fill="none" stroke="#000" stroke-width="1.1" stroke-linejoin="round"/>
<path d="M192.6 537.4 L192.6 546" fill="none" stroke="#000" stroke-width="1.1" stroke-linejoin="round"/>
<path d="M214 514.2 L194.2 531.6" fill="none" stroke="#000" stroke-width="1.1" stroke-linejoin="round"/>
<path d="M185.8,539.6 A2.2,2.2 0 1 0 185.8,543" fill="none" stroke="#000" stroke-width="1.1" stroke-linejoin="round"/>
<path d="M230.5 546 L246.3 541.3 L265.3 543.7 L270 546.8 L270.8 550.8 L267.6 555.5 L257.4 563.4 L252.6 564.2 L230.5 562.6 L230.5 546" fill="none" stroke="#000" stroke-width="1.1" stroke-linejoin="round"/>
<path d="M230.5 546 L251.8 549.2 L251.8 563.4" fill="none" stroke="#000" stroke-width="1.1" stroke-linejoin="round"/>
<path d="M251.8 549.2 L258.2 543.7" fill="none" stroke="#000" stroke-width="1.1" stroke-linejoin="round"/>
<path d="M267.3,549 A1.8,1.8 0 1 0 267.3,551.8" fill="none" stroke="#000" stroke-width="1" stroke-linejoin="round"/>
<path d="M161.6 468.4 L162.8 461.3 L165.5 458.9 L163.2 455 L167.9 451.8 L174.2 451.8 L178.2 455 L182.1 471.6" fill="none" stroke="#000" stroke-width="1.1" stroke-linejoin="round"/>
<path d="M173.4 458.9 L173.4 471.6" fill="none" stroke="#000" stroke-width="1.1" stroke-linejoin="round"/>
<path d="M165.5 458.9 L169.5 460.5 L169.5 458.2" fill="none" stroke="#000" stroke-width="1.1" stroke-linejoin="round"/>
<path d="M161.6 468.4 L173.4 471.6 L182.1 471.6" fill="none" stroke="#000" stroke-width="1.1" stroke-linejoin="round"/>
<path d="M217.3 424 L217.3 492" fill="none" stroke="#000" stroke-width="1.1" stroke-linejoin="round"/>
<path d="M235.6 424 L235.6 495.3" fill="none" stroke="#000" stroke-width="1.1" stroke-linejoin="round"/>
<path d="M224.7 435.5 L224.7 500" fill="none" stroke="#000" stroke-width="1.1" stroke-linejoin="round"/>
<ellipse cx="226.6" cy="404" rx="11" ry="4.7" fill="none" stroke="#000" stroke-width="1.1"/>
<ellipse cx="226.6" cy="404.3" rx="8.7" ry="3.4" fill="none" stroke="#000" stroke-width="1"/>
<path d="M215.6 404.7 L216.6 415" fill="none" stroke="#000" stroke-width="1.1" stroke-linejoin="round"/>
<path d="M237.6 404.7 L237.2 415.8" fill="none" stroke="#000" stroke-width="1.1" stroke-linejoin="round"/>
<path d="M216.6 415 C217.3 415.4 219.3 417 221 417.5 C222.7 418 224.8 418.2 226.6 418.2 C228.4 418.2 230.2 418 232 417.6 C233.8 417.2 236.3 416.1 237.2 415.8" fill="none" stroke="#000" stroke-width="1.1" stroke-linejoin="round"/>
<path d="M232.9 409.5 L236.8 409 L236.8 415.8 L232.9 416.8Z" fill="none" stroke="#000" stroke-width="1.1" stroke-linejoin="round"/>
<path d="M217.1 415.8 L217.9 421.3" fill="none" stroke="#000" stroke-width="1.1" stroke-linejoin="round"/>
<path d="M236.1 416.6 L235.6 422.1" fill="none" stroke="#000" stroke-width="1.1" stroke-linejoin="round"/>
<path d="M217.9 421.3 C218.6 421.7 220.4 423.3 222 423.8 C223.6 424.3 225.7 424.5 227.4 424.5 C229.1 424.5 230.6 424 232 423.6 C233.4 423.2 235 422.4 235.6 422.1" fill="none" stroke="#000" stroke-width="1.1" stroke-linejoin="round"/>
<path d="M225.8 435.5 C226.1 434.7 225.8 431.9 227.4 430.8 C229 429.8 234 429.5 235.3 429.2" fill="none" stroke="#000" stroke-width="1.1" stroke-linejoin="round"/>
<path d="M221 427 L221 433" fill="none" stroke="#000" stroke-width="0.9" stroke-linejoin="round"/>
<path d="M211.6 375.5 L214 374 L230.5 374.7 L237.6 378.7 L239.2 383.4 L241.6 384.2 L242.8 386.6 L240.8 389.4 L236.8 389.4 L235 387.4 L233.7 388.2 L217.9 387.4 L215.5 385 L211.6 377.1Z" fill="none" stroke="#000" stroke-width="1.1" stroke-linejoin="round"/>
<path d="M215.5 385.8 L218 388.8 L234.5 389.6" fill="none" stroke="#000" stroke-width="1.1" stroke-linejoin="round"/>
<path d="M167.6 531 L167.6 627.5 L251.2 606.2" fill="none" stroke="#000" stroke-width="1" stroke-dasharray="7 2.5 2 2.5" stroke-linejoin="round"/>
<path d="M250.5 573 L250.5 609" fill="none" stroke="#000" stroke-width="1" stroke-dasharray="7 3 1.5 3" stroke-linejoin="round"/>
<path d="M257.4 565.8 L288.6 558.5 L289 579.2 L312.6 573.7" fill="none" stroke="#000" stroke-width="1" stroke-dasharray="7 3" stroke-linejoin="round"/>
<path d="M274.7 533.3 L252.6 539" fill="none" stroke="#000" stroke-width="1" stroke-dasharray="7 3" stroke-linejoin="round"/>
<path d="M162 377.5 L162 438.7 L103.7 452.8" fill="none" stroke="#000" stroke-width="1" stroke-dasharray="7 2.5 2 2.5" stroke-linejoin="round"/>
<path d="M140 443.7 L161.2 455" fill="none" stroke="#000" stroke-width="1" stroke-dasharray="7 3 2 3" stroke-linejoin="round"/>
<ellipse cx="280.1" cy="531.6" rx="3.9" ry="6.4" fill="none" stroke="#000" stroke-width="1.4" transform="rotate(-8 280.1 531.6)"/>
<ellipse cx="279.5" cy="532.2" rx="2.3" ry="4.3" fill="none" stroke="#000" stroke-width="1.4" transform="rotate(-8 279.5 532.2)"/>
<path d="M280.6 525.2 C281.1 524.6 282.1 522.4 283.8 521.6 C285.5 520.8 289.5 520.8 290.6 520.6" fill="none" stroke="#000" stroke-width="1.4" stroke-linejoin="round"/>
<path d="M280.6 538 C281.5 538.1 283.8 538.6 285.9 538.5 C288 538.4 292.1 537.6 293.3 537.4" fill="none" stroke="#000" stroke-width="1.4" stroke-linejoin="round"/>
<path d="M283.8 521.6 C284.4 523 287.1 527.3 287.5 530 C287.9 532.7 286.2 536.6 285.9 537.9" fill="none" stroke="#000" stroke-width="1.4" stroke-linejoin="round"/>
<path d="M287.5 521 C288.2 522.5 291.4 527.2 291.7 530 C292.1 532.8 290 536.6 289.6 537.9" fill="none" stroke="#000" stroke-width="1.4" stroke-linejoin="round"/>
<path d="M290.6 520.6 C291.3 521.1 293.8 522.2 294.7 523.6 C295.6 525 295.8 527.3 295.9 529 C296 530.7 295.7 532.2 295.3 533.6 C294.9 535 293.6 536.8 293.3 537.4" fill="none" stroke="#000" stroke-width="1.4" stroke-linejoin="round"/>
<ellipse cx="320" cy="569.2" rx="4.7" ry="7.7" fill="none" stroke="#000" stroke-width="1.4" transform="rotate(-8 320 569.2)"/>
<ellipse cx="319.3" cy="569.9" rx="2.8" ry="5.2" fill="none" stroke="#000" stroke-width="1.4" transform="rotate(-8 319.3 569.9)"/>
<path d="M320.6 561.5 C321.2 560.8 322.4 558.1 324.4 557.2 C326.4 556.3 331.2 556.2 332.6 556" fill="none" stroke="#000" stroke-width="1.4" stroke-linejoin="round"/>
<path d="M320.6 576.9 C321.7 577 324.4 577.6 327 577.5 C329.5 577.4 334.4 576.4 335.8 576.2" fill="none" stroke="#000" stroke-width="1.4" stroke-linejoin="round"/>
<path d="M324.4 557.2 C325.2 558.9 328.5 564 328.9 567.3 C329.3 570.5 327.3 575.2 327 576.8" fill="none" stroke="#000" stroke-width="1.4" stroke-linejoin="round"/>
<path d="M328.9 556.5 C329.7 558.3 333.5 563.9 333.9 567.3 C334.3 570.7 331.8 575.2 331.4 576.8" fill="none" stroke="#000" stroke-width="1.4" stroke-linejoin="round"/>
<path d="M332.6 556 C333.4 556.6 336.5 557.9 337.5 559.6 C338.6 561.3 338.8 564.1 339 566.1 C339.1 568.1 338.8 569.9 338.2 571.6 C337.7 573.3 336.2 575.4 335.8 576.2" fill="none" stroke="#000" stroke-width="1.4" stroke-linejoin="round"/>
<path d="M310.1 498.4 L310.1 518.4" fill="none" stroke="#000" stroke-width="1.4" stroke-linejoin="round"/>
<path d="M324.8 500.5 L324.8 521.6" fill="none" stroke="#000" stroke-width="1.4" stroke-linejoin="round"/>
<path d="M310.1 498.4 L311.2 496.3 L315.4 495.8 L317.5 492.1 L320.6 490.5 L327 492.9 L326.4 498.4 L324.8 500.5" fill="none" stroke="#000" stroke-width="1.4" stroke-linejoin="round"/>
<path d="M310.1 500.5 L313.3 501.6 L324.8 500.5" fill="none" stroke="#000" stroke-width="1.4" stroke-linejoin="round"/>
<path d="M317.8 493.5 L321 492.2 L325.5 494 L325 498.5 L319 499.2Z" fill="none" stroke="#000" stroke-width="1" stroke-linejoin="round"/>
<path d="M311.2 530 L322.7 530 L324.8 526.8 L324.8 524.7" fill="none" stroke="#000" stroke-width="1.4" stroke-linejoin="round"/>
<ellipse cx="304.3" cy="524.7" rx="2.6" ry="4.8" fill="none" stroke="#000" stroke-width="1.4" transform="rotate(-5 304.3 524.7)"/>
<ellipse cx="304" cy="524.9" rx="1.3" ry="2.8" fill="none" stroke="#000" stroke-width="1" transform="rotate(-5 304 524.9)"/>
<path d="M304.3 519.9 L312.2 518.4" fill="none" stroke="#000" stroke-width="1.4" stroke-linejoin="round"/>
<path d="M304.8 529.5 L311.2 530" fill="none" stroke="#000" stroke-width="1.4" stroke-linejoin="round"/>
<path d="M309.6 518.8 C309.9 519.7 311.3 522.1 311.5 524 C311.7 525.9 310.8 529 310.6 530" fill="none" stroke="#000" stroke-width="1.4" stroke-linejoin="round"/>
<path d="M312.2 518.4 C312.5 519.3 314 522.1 314.2 524 C314.4 525.9 313.4 529 313.3 530" fill="none" stroke="#000" stroke-width="1.4" stroke-linejoin="round"/>
<path d="M324.8 521.6 L331.2 522.6" fill="none" stroke="#000" stroke-width="1.4" stroke-linejoin="round"/>
<path d="M324.8 525.8 L331.2 526.8" fill="none" stroke="#000" stroke-width="1.4" stroke-linejoin="round"/>
<ellipse cx="331.7" cy="524.7" rx="1.9" ry="2.3" fill="none" stroke="#000" stroke-width="1.4"/>
<ellipse cx="325.2" cy="523.7" rx="1.2" ry="2.2" fill="none" stroke="#000" stroke-width="1"/>
<ellipse cx="345.9" cy="564.3" rx="2.6" ry="5.3" fill="none" stroke="#000" stroke-width="1.4" transform="rotate(-8 345.9 564.3)"/>
<ellipse cx="345.6" cy="564.5" rx="1.2" ry="2.6" fill="none" stroke="#000" stroke-width="1" transform="rotate(-8 345.6 564.5)"/>
<path d="M345.9 559 L358 556.6" fill="none" stroke="#000" stroke-width="1.4" stroke-linejoin="round"/>
<path d="M346.5 569.6 L358.5 568.4" fill="none" stroke="#000" stroke-width="1.4" stroke-linejoin="round"/>
<path d="M350.1 557.9 C350.5 558.8 352.4 561.6 352.5 563.5 C352.6 565.4 351.2 568.2 351 569.2" fill="none" stroke="#000" stroke-width="1.4" stroke-linejoin="round"/>
<path d="M353.7 557.3 C354.1 558.3 356 561.6 356.1 563.5 C356.2 565.4 354.9 568 354.6 568.9" fill="none" stroke="#000" stroke-width="1.4" stroke-linejoin="round"/>
<path d="M357.2 556.7 C357.6 557.8 359.5 561.5 359.6 563.5 C359.8 565.5 358.4 567.7 358.1 568.6" fill="none" stroke="#000" stroke-width="1.4" stroke-linejoin="round"/>
<ellipse cx="364.2" cy="559.5" rx="7" ry="11.5" fill="none" stroke="#000" stroke-width="1.4" transform="rotate(-8 364.2 559.5)"/>
<ellipse cx="363.2" cy="560" rx="4.2" ry="7.2" fill="none" stroke="#000" stroke-width="1" transform="rotate(-8 363.2 560)"/>
<path d="M365.5 548.2 C366.3 548.5 369.2 548.5 370.5 550 C371.8 551.5 373.1 554.5 373.5 557 C373.9 559.5 373.5 562.8 372.8 565 C372.1 567.2 370.6 569.2 369.5 570.2 C368.4 571.2 367 571 366.5 571.2" fill="none" stroke="#000" stroke-width="1.4" stroke-linejoin="round"/>
<path d="M371.8 550.7 L379 551.3 L380.8 554.2 L380.2 559 L377.2 561.9 L373.4 562.5" fill="none" stroke="#000" stroke-width="1.4" stroke-linejoin="round"/>
<path d="M375.5 551 L375.2 562" fill="none" stroke="#000" stroke-width="1" stroke-linejoin="round"/>
<path d="M388.4 286.6 L430.5 273.4" fill="none" stroke="#000" stroke-width="0.8" stroke-linejoin="round"/>
<mask id="hm1" maskUnits="userSpaceOnUse" x="0" y="0" width="760" height="1112"><rect width="760" height="1112" fill="#fff"/><path d="M334.5 454.5 C340.4 459.8 346.1 465.2 350.8 472 C355.5 478.8 360.2 488.5 362.6 495 C365.1 501.5 365.6 506.5 365.5 511 C365.4 515.5 363.8 519.1 362 522 C360.2 524.9 358.1 527.2 354.5 528.3 C350.9 529.3 342.8 528.3 340.5 528.3" fill="none" stroke="#000" stroke-width="4.6" stroke-linecap="round" stroke-linejoin="round"/></mask>
<path d="M334.5 454.5 C340.4 459.8 346.1 465.2 350.8 472 C355.5 478.8 360.2 488.5 362.6 495 C365.1 501.5 365.6 506.5 365.5 511 C365.4 515.5 363.8 519.1 362 522 C360.2 524.9 358.1 527.2 354.5 528.3 C350.9 529.3 342.8 528.3 340.5 528.3" fill="none" stroke="#000" stroke-width="6.8" stroke-linecap="round" stroke-linejoin="round" mask="url(#hm1)"/>
<path d="M455 279.5 C457.9 278.8 467.9 276.4 472.6 275.2 C477.3 274 480.7 273.8 483.2 272.5 C485.7 271.2 487.4 269.3 487.6 267.6 C487.8 265.9 486 263.4 484.2 262.4 C482.4 261.4 479.6 261.4 476.8 261.8 C474 262.2 470.5 264.2 467.4 265 C464.2 265.8 460.9 266.8 457.9 266.8 C454.9 266.8 452.1 264.9 449.5 264.8 C446.9 264.7 444.2 265 442.1 266 C440 267 437.9 269 436.6 270.8 C435.3 272.6 434.7 274.7 434.2 276.6 C433.7 278.5 433.6 280.2 433.7 282 C433.8 283.8 434 284.9 434.7 287.1 C435.4 289.4 436.6 292.6 437.9 295.5 C439.2 298.4 440.8 301.6 442.6 304.5 C444.4 307.4 447.1 310.2 448.7 312.9 C450.3 315.6 451.8 318.1 452.4 320.8 C453 323.5 453 326.7 452.4 329.2 C451.8 331.7 450.6 334 448.7 336 C446.8 338 444.2 339.8 440.8 341.3 C437.4 342.8 433.3 343.8 428.2 345 C423.1 346.2 417.2 347.1 410 348.8 C402.8 350.6 394.2 352.5 384.7 355.5 C375.2 358.5 361.1 363.6 353.2 366.6 C345.3 369.6 342.7 370.3 337.4 373.7 C332.1 377.1 326.1 382.2 321.6 387.1 C317.1 392 312.9 397.9 310.5 402.9 C308.1 407.9 307.4 412.1 307.4 417.1 C307.4 422.1 309.2 429.1 310.5 432.9 C311.8 436.7 311.3 436.4 315.3 440 C319.3 443.6 328.6 449.2 334.5 454.5" fill="none" stroke="#000" stroke-width="6.8" stroke-linecap="butt" stroke-linejoin="round"/>
<path d="M455 279.5 C457.9 278.8 467.9 276.4 472.6 275.2 C477.3 274 480.7 273.8 483.2 272.5 C485.7 271.2 487.4 269.3 487.6 267.6 C487.8 265.9 486 263.4 484.2 262.4 C482.4 261.4 479.6 261.4 476.8 261.8 C474 262.2 470.5 264.2 467.4 265 C464.2 265.8 460.9 266.8 457.9 266.8 C454.9 266.8 452.1 264.9 449.5 264.8 C446.9 264.7 444.2 265 442.1 266 C440 267 437.9 269 436.6 270.8 C435.3 272.6 434.7 274.7 434.2 276.6 C433.7 278.5 433.6 280.2 433.7 282 C433.8 283.8 434 284.9 434.7 287.1 C435.4 289.4 436.6 292.6 437.9 295.5 C439.2 298.4 440.8 301.6 442.6 304.5 C444.4 307.4 447.1 310.2 448.7 312.9 C450.3 315.6 451.8 318.1 452.4 320.8 C453 323.5 453 326.7 452.4 329.2 C451.8 331.7 450.6 334 448.7 336 C446.8 338 444.2 339.8 440.8 341.3 C437.4 342.8 433.3 343.8 428.2 345 C423.1 346.2 417.2 347.1 410 348.8 C402.8 350.6 394.2 352.5 384.7 355.5 C375.2 358.5 361.1 363.6 353.2 366.6 C345.3 369.6 342.7 370.3 337.4 373.7 C332.1 377.1 326.1 382.2 321.6 387.1 C317.1 392 312.9 397.9 310.5 402.9 C308.1 407.9 307.4 412.1 307.4 417.1 C307.4 422.1 309.2 429.1 310.5 432.9 C311.8 436.7 311.3 436.4 315.3 440 C319.3 443.6 328.6 449.2 334.5 454.5" fill="none" stroke="#fff" stroke-width="4.6" stroke-linecap="butt" stroke-linejoin="round"/>
<path d="M384 297.3 L472.6 275.2" fill="none" stroke="#000" stroke-width="6.8" stroke-linecap="butt" stroke-linejoin="round"/>
<path d="M384 297.3 L472.6 275.2" fill="none" stroke="#fff" stroke-width="4.6" stroke-linecap="butt" stroke-linejoin="round"/>
<path d="M384 297.3 L390 295.8" fill="none" stroke="#000" stroke-width="6.8" stroke-linecap="round" stroke-linejoin="round"/>
<path d="M384 297.3 L390 295.8" fill="none" stroke="#fff" stroke-width="4.6" stroke-linecap="round" stroke-linejoin="round"/>
<path d="M390 295.8 L468 276.3" fill="none" stroke="#000" stroke-width="6.8" stroke-linecap="butt" stroke-linejoin="round"/>
<path d="M390 295.8 L468 276.3" fill="none" stroke="#fff" stroke-width="4.6" stroke-linecap="butt" stroke-linejoin="round"/>
<ellipse cx="384.2" cy="297.4" rx="1.3" ry="2.4" fill="none" stroke="#000" stroke-width="0.9" transform="rotate(-14 384.2 297.4)"/>
<path d="M383 319.3 C385 320.2 391.7 323.4 395 324.5 C398.3 325.6 400.2 325.8 403 326.2 C405.8 326.6 410.5 326.9 412 327" fill="none" stroke="#000" stroke-width="6.2" stroke-linecap="round" stroke-linejoin="round"/>
<path d="M383 319.3 C385 320.2 391.7 323.4 395 324.5 C398.3 325.6 400.2 325.8 403 326.2 C405.8 326.6 410.5 326.9 412 327" fill="none" stroke="#fff" stroke-width="3.9" stroke-linecap="round" stroke-linejoin="round"/>
<path d="M433.4 328.2 L442 331.6" fill="none" stroke="#000" stroke-width="5.8" stroke-linecap="round" stroke-linejoin="round"/>
<path d="M433.4 328.2 L442 331.6" fill="none" stroke="#fff" stroke-width="3.4" stroke-linecap="round" stroke-linejoin="round"/>
<ellipse cx="442.4" cy="331.8" rx="1.6" ry="2.3" fill="none" stroke="#000" stroke-width="0.9" transform="rotate(-65 442.4 331.8)"/>
<path d="M487.2 348.2 C489.8 348.4 497.8 348.7 502.6 349.7 C507.4 350.7 512.3 353.4 515.8 354.3 C519.3 355.2 521.1 355.3 523.7 355.3 C526.3 355.3 530 354.5 531.2 354.3" fill="none" stroke="#000" stroke-width="6.2" stroke-linecap="butt" stroke-linejoin="round"/>
<path d="M487.2 348.2 C489.8 348.4 497.8 348.7 502.6 349.7 C507.4 350.7 512.3 353.4 515.8 354.3 C519.3 355.2 521.1 355.3 523.7 355.3 C526.3 355.3 530 354.5 531.2 354.3" fill="none" stroke="#fff" stroke-width="3.9" stroke-linecap="butt" stroke-linejoin="round"/>
<path d="M486.9 345.6 L487.5 350.9" fill="none" stroke="#000" stroke-width="1.1" stroke-linejoin="round"/>
<path d="M531 351.7 L531.6 357" fill="none" stroke="#000" stroke-width="1.1" stroke-linejoin="round"/>
<path d="M485.8 358.4 C489.7 360.2 502 366.1 509.2 369.5 C516.4 372.9 522.2 375.5 529 378.7 C535.8 381.9 542.7 384.5 550 388.5 C557.3 392.5 569 400.2 572.8 402.6" fill="none" stroke="#000" stroke-width="6.2" stroke-linecap="round" stroke-linejoin="round"/>
<path d="M485.8 358.4 C489.7 360.2 502 366.1 509.2 369.5 C516.4 372.9 522.2 375.5 529 378.7 C535.8 381.9 542.7 384.5 550 388.5 C557.3 392.5 569 400.2 572.8 402.6" fill="none" stroke="#fff" stroke-width="3.9" stroke-linecap="round" stroke-linejoin="round"/>
<path d="M603.3 421.8 C604.3 422.4 607 424.7 609.2 425.5 C611.4 426.3 613.7 426.6 616.3 426.4 C618.9 426.2 621.9 425.3 625 424.3 C628.1 423.3 631.2 422.4 635 420.5 C638.8 418.6 645.8 414.1 648 412.8" fill="none" stroke="#000" stroke-width="6.2" stroke-linecap="round" stroke-linejoin="round"/>
<path d="M603.3 421.8 C604.3 422.4 607 424.7 609.2 425.5 C611.4 426.3 613.7 426.6 616.3 426.4 C618.9 426.2 621.9 425.3 625 424.3 C628.1 423.3 631.2 422.4 635 420.5 C638.8 418.6 645.8 414.1 648 412.8" fill="none" stroke="#fff" stroke-width="3.9" stroke-linecap="round" stroke-linejoin="round"/>
<ellipse cx="462.1" cy="275.5" rx="9" ry="9" fill="none" stroke="#000" stroke-width="1.1" stroke-dasharray="3 2"/>
<ellipse cx="421.8" cy="326" rx="8.4" ry="10" fill="#fff" stroke="#000" stroke-width="1.1" stroke-dasharray="3 2"/>
<path d="M404.5 324.5 L431 324.5" fill="none" stroke="#000" stroke-width="1" stroke-linejoin="round"/>
<path d="M405.5 329.3 L428.5 330" fill="none" stroke="#000" stroke-width="1.6" stroke-dasharray="1 0.7" stroke-linejoin="round"/>
<ellipse cx="517.8" cy="373.4" rx="9.2" ry="10.5" fill="none" stroke="#000" stroke-width="1.1" stroke-dasharray="3 2"/>
<ellipse cx="353.2" cy="367.4" rx="10" ry="9.6" fill="none" stroke="#000" stroke-width="1.1" stroke-dasharray="3 2"/>
<path d="M546.4 336.3 L547.6 332.8 L553.9 326.8 L561.1 326.4 L565.4 329.2 L567 332 L566.2 333.9 L562.2 335.1 L554.7 338.7 L548.8 338.7Z" fill="none" stroke="#000" stroke-width="1.2" stroke-linejoin="round"/>
<path d="M553.9 336.7 L561.8 329.2" fill="none" stroke="#000" stroke-width="1" stroke-linejoin="round"/>
<path d="M550.4 338.7 L550.8 345.4 L554.3 346.2 L559.5 345.4 L560.3 337.9" fill="none" stroke="#000" stroke-width="1.2" stroke-linejoin="round"/>
<path d="M554.3 338.7 L554.3 346.2" fill="none" stroke="#000" stroke-width="1.2" stroke-linejoin="round"/>
<path d="M560.3 337.9 L563.8 334.7 L563.8 340.3 L560.3 345.4Z" fill="#000" stroke="#000" stroke-width="1" stroke-linejoin="round"/>
<path d="M553.2 346.6 C552.4 347.1 549.4 348.8 548.4 349.7 C547.4 350.6 547.2 351.4 547.2 352.1 C547.2 352.8 547.7 353.8 548.4 354.1 C549.1 354.4 549.6 354.8 551.2 354.1 C552.8 353.4 556.4 351.1 557.9 349.7 C559.4 348.3 559.9 346.4 560.3 345.8" fill="none" stroke="#000" stroke-width="1.2" stroke-linejoin="round"/>
<ellipse cx="550.2" cy="351.9" rx="1.9" ry="2.5" fill="none" stroke="#000" stroke-width="1" transform="rotate(35 550.2 351.9)"/>
<path d="M657.6 395 L658.8 391.5 L665.1 385.5 L672.3 385.1 L676.6 387.9 L678.2 390.7 L677.4 392.6 L673.4 393.8 L665.9 397.4 L660 397.4Z" fill="none" stroke="#000" stroke-width="1.2" stroke-linejoin="round"/>
<path d="M665.1 395.4 L673 387.9" fill="none" stroke="#000" stroke-width="1" stroke-linejoin="round"/>
<path d="M661.6 397.4 L662 404.1 L665.5 404.9 L670.7 404.1 L671.5 396.6" fill="none" stroke="#000" stroke-width="1.2" stroke-linejoin="round"/>
<path d="M665.5 397.4 L665.5 404.9" fill="none" stroke="#000" stroke-width="1.2" stroke-linejoin="round"/>
<path d="M671.5 396.6 L675 393.4 L675 399 L671.5 404.1Z" fill="#000" stroke="#000" stroke-width="1" stroke-linejoin="round"/>
<path d="M664.4 405.3 C663.6 405.8 660.6 407.5 659.6 408.4 C658.6 409.3 658.4 410.1 658.4 410.8 C658.4 411.5 658.9 412.5 659.6 412.8 C660.3 413.1 660.8 413.5 662.4 412.8 C664 412.1 667.6 409.8 669.1 408.4 C670.6 407 671.1 405.1 671.5 404.5" fill="none" stroke="#000" stroke-width="1.2" stroke-linejoin="round"/>
<ellipse cx="661.4" cy="410.6" rx="1.9" ry="2.5" fill="none" stroke="#000" stroke-width="1" transform="rotate(35 661.4 410.6)"/>
<path d="M582 409 C583.3 409.8 587.5 412.6 590 414 C592.5 415.4 595.8 416.9 597 417.5" fill="none" stroke="#000" stroke-width="5.3" stroke-linecap="round" stroke-linejoin="round"/>
<path d="M582 409 C583.3 409.8 587.5 412.6 590 414 C592.5 415.4 595.8 416.9 597 417.5" fill="none" stroke="#fff" stroke-width="1.9" stroke-linecap="round" stroke-linejoin="round"/>
<ellipse cx="581.6" cy="409" rx="1.9" ry="2.3" fill="#fff" stroke="#000" stroke-width="1.3"/>
<ellipse cx="597.4" cy="417.7" rx="2.3" ry="2.6" fill="#fff" stroke="#000" stroke-width="1.4"/>
<path d="M585.5 406.4 L589.5 401.5 L592.8 402.8 L593.2 407 L597.4 408.6 L595 411.5 L590 412.8 L586 410Z" fill="#fff" stroke="#000" stroke-width="1.6" stroke-linejoin="round"/>
<path d="M588.8 404 L590.3 408.6 L594.8 409.2" fill="none" stroke="#000" stroke-width="1.7" stroke-linejoin="round"/>
<path d="M585.8 408.5 L590.5 411.3 L595.5 410.6" fill="none" stroke="#000" stroke-width="1.5" stroke-linejoin="round"/>
<path d="M458.5 342.8 C459.9 343.4 463.9 345.8 467 346.5 C470.1 347.2 475.3 346.9 477 347" fill="none" stroke="#000" stroke-width="5.2" stroke-linecap="round" stroke-linejoin="round"/>
<path d="M458.5 342.8 C459.9 343.4 463.9 345.8 467 346.5 C470.1 347.2 475.3 346.9 477 347" fill="none" stroke="#fff" stroke-width="2.8" stroke-linecap="round" stroke-linejoin="round"/>
<ellipse cx="458.3" cy="342.6" rx="1.5" ry="2.3" fill="#fff" stroke="#000" stroke-width="1" transform="rotate(-60 458.3 342.6)"/>
<path d="M467.2 343.4 L476 343.8 L476.5 350.8 L469.5 350.5Z" fill="#fff" stroke="#000" stroke-width="1.3" stroke-linejoin="round"/>
<path d="M466.5 342.6 L476 342.8" fill="none" stroke="#000" stroke-width="1.8" stroke-linejoin="round"/>
<circle cx="479.6" cy="346.4" r="2.4" fill="#fff" stroke="#000" stroke-width="1.2"/>
<circle cx="479.2" cy="353.5" r="2.4" fill="#fff" stroke="#000" stroke-width="1.2"/>
<path d="M472 350.6 L477 352.5" fill="none" stroke="#000" stroke-width="1.2" stroke-linejoin="round"/>
<path d="M470.5 351.5 L476.8 355.2" fill="none" stroke="#000" stroke-width="1.2" stroke-linejoin="round"/>
<path d="M355.5 307 L361 298 L364.5 297.5 L369 302 L372 300.5 L375 303.8 L370 307.5 L378 313 L376 317.5 L366 313 L357 310Z" fill="#fff" stroke="#000" stroke-width="1.4" stroke-linejoin="round"/>
<circle cx="375" cy="301.4" r="2.6" fill="#fff" stroke="#000" stroke-width="1.2"/>
<ellipse cx="377" cy="315.3" rx="2" ry="2.7" fill="#fff" stroke="#000" stroke-width="1.2" transform="rotate(25 377 315.3)"/>
<path d="M360 300 L364 306 L370 307.5" fill="none" stroke="#000" stroke-width="1.2" stroke-linejoin="round"/>
<path d="M362 304 L358.5 309" fill="none" stroke="#000" stroke-width="1.2" stroke-linejoin="round"/>
<path d="M367 309.5 L365.5 313" fill="none" stroke="#000" stroke-width="1.1" stroke-linejoin="round"/>
<path d="M370.5 311.3 L369 315" fill="none" stroke="#000" stroke-width="1.1" stroke-linejoin="round"/>
<path d="M373.8 313 L372.3 316.6" fill="none" stroke="#000" stroke-width="1.1" stroke-linejoin="round"/>
<path d="M363.5 298.5 L366.5 303.5" fill="none" stroke="#000" stroke-width="1.1" stroke-linejoin="round"/>
<path d="M154.2 370.5 L164.5 367 L164.8 370.8 L158.5 373.8 L154.2 373.8Z" fill="#000" stroke="#000" stroke-width="1" stroke-linejoin="round"/>
<path d="M156.3,371.7h0.1M159,370.3h0.1M161,369.5h0.1M163,368.9h0.1" stroke="#fff" stroke-width="1.0" stroke-linecap="square" fill="none"/>
<path d="M162.6 365.2 L163.6 362.8 L170.8 362.8 L172.8 365 L172.8 371.4 L169 373.4 L167 374.6 L164.2 372.4Z" fill="#fff" stroke="#000" stroke-width="1.5" stroke-linejoin="round"/>
<path d="M164.5 365.5 L166.5 364 L168.5 365.5 L168.2 369" fill="none" stroke="#000" stroke-width="1.2" stroke-linejoin="round"/>
<path d="M169.5 364 L170.5 366 L172.5 366.3" fill="none" stroke="#000" stroke-width="1.1" stroke-linejoin="round"/>
<path d="M170 367.5 L170 371.5" fill="none" stroke="#000" stroke-width="1.1" stroke-linejoin="round"/>
<path d="M165.5 367.5 L166 371.5 L168.5 370.5" fill="none" stroke="#000" stroke-width="1.4" stroke-linejoin="round"/>
<path d="M91 454 L93.5 451.5 L95.8 449.3 L96.8 448 L98.5 449.3 L101.2 451.8 L102.7 454.5 L102.7 460.3 L101.3 461.7 L93.3 461.7 L91 459.6Z" fill="#fff" stroke="#000" stroke-width="1.4" stroke-linejoin="round"/>
<path d="M90.3 454.4 L92 454.4" fill="none" stroke="#000" stroke-width="1.2" stroke-linejoin="round"/>
<path d="M95 452 L98.8 452 L100 454.5 L100.3 457.5" fill="none" stroke="#000" stroke-width="1.1" stroke-linejoin="round"/>
<path d="M96 455.5 L99.5 455.2" fill="none" stroke="#000" stroke-width="1.1" stroke-linejoin="round"/>
<path d="M94 456 L94.3 460" fill="none" stroke="#000" stroke-width="1.2" stroke-linejoin="round"/>
<path d="M93.5 460.6 L101 460.6" fill="none" stroke="#000" stroke-width="2" stroke-linejoin="round"/>
<path d="M96.8 448 L96.8 446" fill="none" stroke="#000" stroke-width="1.6" stroke-linejoin="round"/>
<path d="M227.5 627.6 L238.2 632.6 L238 636.4 L233 635.6 L227.2 632.6Z" fill="#000" stroke="#000" stroke-width="1" stroke-linejoin="round"/>
<path d="M229.9,630.3l-0.8,2.2M232.5,631.6l-0.8,2.2M235.1,632.9l-0.8,2.2" stroke="#fff" stroke-width="1.0" fill="none"/>
<path d="M220 622.1 L227.9 622.1 L230.5 625 L230.5 628.2 L227.4 632.9 L222.6 633.4 L218.2 629.2 L218.2 624.5Z" fill="#fff" stroke="#000" stroke-width="1.6" stroke-linejoin="round"/>
<path d="M220 622.8 L222 625 L222.3 632.5" fill="none" stroke="#000" stroke-width="1.2" stroke-linejoin="round"/>
<path d="M222 625 L228.5 624" fill="none" stroke="#000" stroke-width="1.1" stroke-linejoin="round"/>
<path d="M227.3,626.6 A2.7,2.9 0 1 0 227.3,631.4" fill="none" stroke="#000" stroke-width="1.3" stroke-linejoin="round"/>
<path d="M219 626 L219.8 628.5" fill="none" stroke="#000" stroke-width="1" stroke-linejoin="round"/>
<path d="M241.2 636.8 L251 641" fill="none" stroke="#000" stroke-width="0.9" stroke-dasharray="0.8 2.2 7 0" stroke-linejoin="round"/>
<path d="M456,310.3 L445,310.3" stroke="#fff" stroke-width="4.5" fill="none"/>
<path d="M456 310.3 L443.4 310.3 L431.3 320.3 L431.3 328.7" fill="none" stroke="#000" stroke-width="1" stroke-linejoin="round"/>
<path d="M462.6 262 L462.6 268.5" fill="none" stroke="#000" stroke-width="1" stroke-dasharray="1 1" stroke-linejoin="round"/>
<path d="M404.5 329.5 L404.5 365.5" fill="none" stroke="#000" stroke-width="1" stroke-linejoin="round"/>
</g>
</svg>
</body></html>
